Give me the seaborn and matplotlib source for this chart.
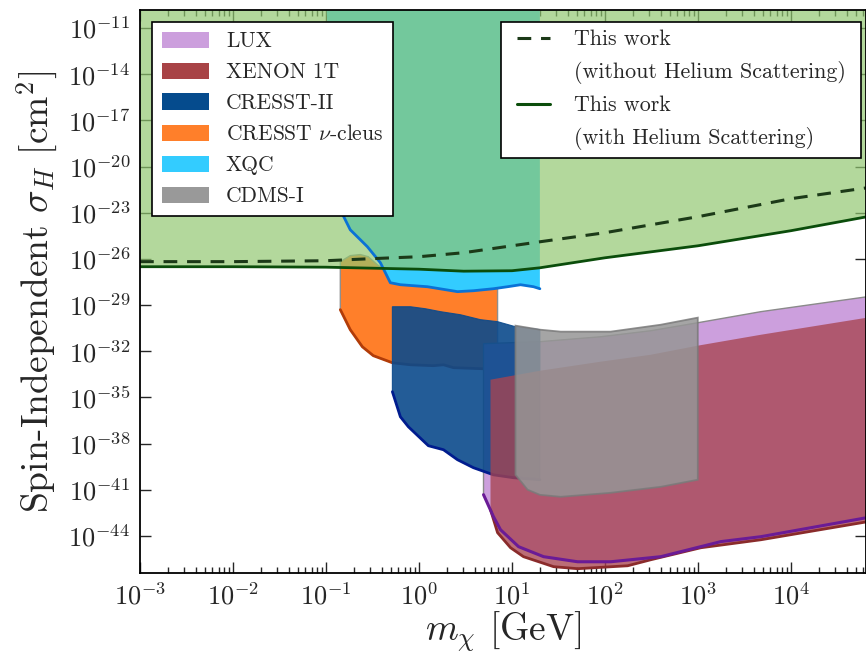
import numpy as np
import pandas as pd
import matplotlib
matplotlib.use("Agg")
import matplotlib.pyplot as plt
import seaborn as sns
from matplotlib.patches import Patch
from matplotlib.lines import Line2D
from matplotlib.legend_handler import HandlerLine2D
from matplotlib.ticker import FixedLocator, NullLocator, LogLocator, FuncFormatter

# ---- exclusion data: log10(m_chi / GeV) and log10(sigma_H / cm^2) ----
# This work, with Helium scattering (lower edge of the excluded band)
he_logm = [-3.0, -2.0, -1.0, 0.0, 0.48, 1.0, 1.3, 2.0, 3.0, 4.0, 4.82]
he_logsig = [-26.51, -26.51, -26.54, -26.67, -26.80, -26.77, -26.58, -25.93, -25.15, -24.17, -23.26]

# This work, without Helium scattering
nohe_logm = [-3.0, -2.0, -1.0, -0.52, 0.0, 0.48, 1.0, 1.3, 2.0, 3.0, 4.0, 4.82]
nohe_logsig = [-26.18, -26.18, -26.12, -25.99, -25.86, -25.60, -25.15, -24.89, -24.30, -23.26, -22.09, -21.38]

# XQC (excluded above this curve)
xqc_logm = [-1.0, -0.943, -0.900, -0.846, -0.739, -0.555, -0.415, -0.308, -0.200, 0.091,
            0.414, 0.586, 0.801, 0.952, 1.092, 1.232, 1.30]
xqc_logsig = [-9.0, -15.66, -20.21, -22.81, -24.11, -25.21, -26.25, -27.55, -27.68, -27.81,
              -28.13, -28.07, -27.94, -27.81, -27.68, -27.81, -27.94]

# CRESST nu-cleus
nucleus_upper_logm = [-0.846, -0.739, -0.631, -0.545, -0.437, -0.308, 0.845]
nucleus_upper_logsig = [-26.18, -25.79, -25.72, -25.86, -26.44, -26.83, -26.83]
nucleus_lower_logm = [-0.846, -0.739, -0.609, -0.491, -0.286, -0.092, 0.155, 0.263, 0.371, 0.694, 0.845]
nucleus_lower_logsig = [-29.30, -30.60, -31.71, -32.29, -32.75, -32.88, -32.94, -32.88, -33.07, -33.14, -33.07]

# CRESST-II
cresst_upper_logm = [-0.286, -0.092, 0.069, 0.231, 0.446, 0.661, 0.845, 1.038, 1.30]
cresst_upper_logsig = [-29.11, -29.11, -29.24, -29.43, -29.63, -29.95, -30.08, -30.41, -30.60]
cresst_lower_logm = [-0.286, -0.200, -0.114, 0.101, 0.263, 0.414, 0.586, 0.801, 1.017, 1.30]
cresst_lower_logsig = [-34.63, -36.26, -36.91, -38.14, -38.40, -39.05, -39.57, -40.03, -40.22, -40.35]

# LUX
lux_upper_logm = [0.694, 1.30, 1.954, 2.492, 2.998, 3.677, 4.82]
lux_upper_logsig = [-31.51, -31.38, -31.06, -30.67, -30.15, -29.43, -28.46]
lux_lower_logm = [0.694, 0.801, 0.877, 1.071, 1.340, 1.706, 2.061, 2.600, 3.246, 3.677, 4.82]
lux_lower_logsig = [-41.32, -42.75, -43.60, -44.70, -45.35, -45.68, -45.68, -45.35, -44.37, -44.05, -42.81]

# XENON 1T
xenon_upper_logm = [0.769, 1.30, 1.954, 2.492, 2.998, 3.677, 4.82]
xenon_upper_logsig = [-33.85, -33.27, -32.68, -32.23, -31.64, -30.93, -29.82]
xenon_lower_logm = [0.769, 0.845, 0.985, 1.124, 1.448, 1.706, 2.244, 2.492, 3.030, 3.677, 4.82]
xenon_lower_logsig = [-42.30, -43.79, -44.77, -45.35, -46.00, -46.13, -45.94, -45.55, -44.77, -44.25, -43.08]

# CDMS-I
cdms_upper_logm = [1.038, 1.30, 1.523, 2.061, 2.600, 2.998]
cdms_upper_logsig = [-30.34, -30.60, -30.73, -30.73, -30.28, -29.82]
cdms_lower_logm = [1.038, 1.168, 1.30, 1.523, 2.061, 2.600, 2.998]
cdms_lower_logsig = [-40.03, -41.00, -41.33, -41.46, -41.20, -40.81, -40.35]

legend_names = ["LUX", "XENON 1T", "CRESST-II", r"CRESST $\nu$-cleus", "XQC", "CDMS-I"]
legend_colors = ["#cc9fdd", "#a84346", "#054b8d", "#ff7f2a", "#33ccff", "#999999"]

SIG_TOP = -9.0

# ---- style ----
sns.set_style("ticks")
plt.rcParams.update({
    "font.family": "serif",
    "font.serif": ["cmr10", "DejaVu Serif"],
    "mathtext.fontset": "cm",
    "axes.unicode_minus": False,
    "axes.formatter.use_mathtext": True,
    "axes.linewidth": 1.3,
    "axes.edgecolor": "black",
})

fig = plt.figure(figsize=(8.66, 6.56), dpi=100)
ax = fig.add_axes([140 / 866, 83 / 656, 726 / 866, 563 / 656])
ax.set_xscale("log")
ax.set_yscale("log")


def p10(a):
    return 10.0 ** np.asarray(a, dtype=float)


def fill_band(upper_m, upper_s, lower_m, lower_s, **kw):
    xs = np.concatenate([p10(lower_m), p10(upper_m)[::-1]])
    ys = np.concatenate([p10(lower_s), p10(upper_s)[::-1]])
    ax.fill(xs, ys, **kw)


def edge_line(logm, logsig, color, lw, z, **kw):
    df = pd.DataFrame({"m": p10(logm), "s": p10(logsig)})
    sns.lineplot(data=df, x="m", y="s", ax=ax, color=color, lw=lw,
                 estimator=None, sort=False, zorder=z, **kw)


# CRESST nu-cleus
fill_band(nucleus_upper_logm, nucleus_upper_logsig, nucleus_lower_logm, nucleus_lower_logsig,
          facecolor="#ff7f2a", edgecolor="#8f8f8f", lw=1.0, zorder=1.0)
edge_line(nucleus_lower_logm, nucleus_lower_logsig, "#b23c08", 2.0, 1.1)

# XQC
fill_band([xqc_logm[0], xqc_logm[-1]], [SIG_TOP, SIG_TOP], xqc_logm, xqc_logsig,
          facecolor="#33ccff", edgecolor="none", zorder=1.5)

# LUX
fill_band(lux_upper_logm, lux_upper_logsig, lux_lower_logm, lux_lower_logsig,
          facecolor="#cc9fdd", edgecolor="#8a8a8a", lw=1.0, zorder=2.0)

# CRESST-II
fill_band(cresst_upper_logm, cresst_upper_logsig, cresst_lower_logm, cresst_lower_logsig,
          facecolor="#0b4a8c", alpha=0.9, edgecolor="#0b4a8c", lw=0.8, zorder=3.0)
edge_line(cresst_lower_logm, cresst_lower_logsig, "#001c8e", 2.0, 3.1)

# XENON 1T
fill_band(xenon_upper_logm, xenon_upper_logsig, xenon_lower_logm, xenon_lower_logsig,
          facecolor="#a84450", alpha=0.78, edgecolor="none", zorder=4.0)
edge_line(xenon_lower_logm, xenon_lower_logsig, "#8a2b2b", 2.0, 4.4)
edge_line(lux_lower_logm, lux_lower_logsig, "#6a1b96", 2.2, 4.5)

# CDMS-I
fill_band(cdms_upper_logm, cdms_upper_logsig, cdms_lower_logm, cdms_lower_logsig,
          facecolor="#969696", alpha=0.85, edgecolor="#7a7a7a", lw=1.3, zorder=5.0)

# This work: excluded region
ax.fill_between(p10(he_logm), p10(he_logsig), 10.0 ** SIG_TOP,
                facecolor="#91c770", alpha=0.69, edgecolor="none", zorder=6.0)
edge_line(xqc_logm[1:], xqc_logsig[1:], "#0a72d6", 2.0, 6.5)
edge_line(he_logm, he_logsig, "#0b4d0b", 2.0, 7.0)
edge_line(nohe_logm, nohe_logsig, "#1c3a18", 2.2, 7.0, linestyle=(0, (4.5, 3.2)))

# ---- axes ----
ax.set_xlim(1e-3, 10 ** 4.807)
ax.set_ylim(10 ** -46.41, 10 ** -9.83)

ax.xaxis.set_major_locator(LogLocator(base=10, numticks=20))
ax.xaxis.set_minor_locator(LogLocator(base=10, subs=np.arange(2, 10), numticks=100))
ax.xaxis.set_major_formatter(FuncFormatter(lambda v, p: r"$10^{%d}$" % round(np.log10(v))))
ax.yaxis.set_major_locator(FixedLocator([10.0 ** e for e in range(-44, -10, 3)]))
ax.yaxis.set_minor_locator(NullLocator())
ax.yaxis.set_major_formatter(FuncFormatter(lambda v, p: r"$10^{%d}$" % round(np.log10(v))))

ax.tick_params(which="both", direction="in", top=True, right=True, labelsize=19, width=1.0)
ax.tick_params(which="major", length=8, pad=7)
ax.tick_params(which="minor", length=4)

ax.set_xlabel(r"$m_\chi$ [GeV]", fontsize=27, labelpad=0)
ax.set_ylabel(r"Spin-Independent $\sigma_H$ [cm$^2$]", fontsize=27, labelpad=6)

for s in ax.spines.values():
    s.set_zorder(10)

# ---- legends ----
handles1 = [Patch(facecolor=c, edgecolor="none") for c in legend_colors]
leg1 = ax.legend(handles1, legend_names, loc="upper left", bbox_to_anchor=(0.0166, 0.9787),
                 borderaxespad=0, fontsize=15.5, frameon=True, fancybox=False, framealpha=1,
                 edgecolor="black", handlelength=2.2, handleheight=0.8, handletextpad=0.78,
                 labelspacing=0.52, borderpad=0.45)
leg1.get_frame().set_linewidth(1.2)
leg1.set_zorder(20)
ax.add_artist(leg1)

handles2 = [Line2D([], [], color="#1c3a18", lw=2.2, linestyle=(0, (4.5, 3.2))),
            Line2D([], [], color="none"),
            Line2D([], [], color="#0b4d0b", lw=2.2),
            Line2D([], [], color="none")]
labels2 = ["This work", "(without Helium Scattering) ", "This work", "(with Helium Scattering)"]
leg2 = ax.legend(handles2, labels2, loc="upper right", bbox_to_anchor=(0.993, 0.9787),
                 borderaxespad=0, fontsize=15.8, frameon=True, fancybox=False, framealpha=1,
                 edgecolor="black", handlelength=1.886, handletextpad=1.096,
                 labelspacing=0.54, borderpad=0.35,
                 handler_map={Line2D: HandlerLine2D(xpad=0.38)})
leg2.get_frame().set_linewidth(1.2)
leg2.set_zorder(20)

fig.savefig("out.png", dpi=100)
